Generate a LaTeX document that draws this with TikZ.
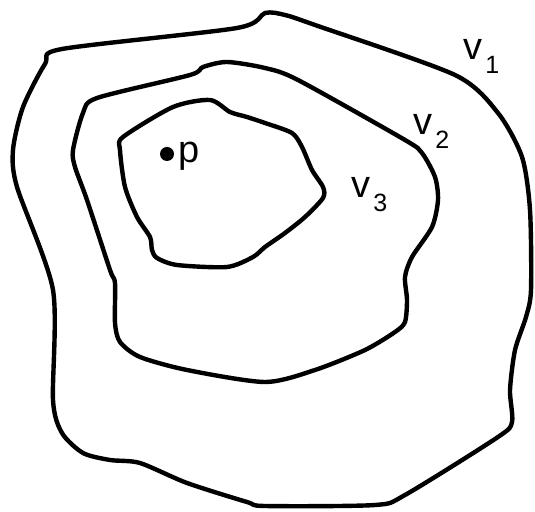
\documentclass[tikz,border=0pt]{standalone}
\usepackage{fontspec}
\setmainfont{Liberation Sans}
\usepackage{tikz}

\newcommand{\vsub}[1]{v\kern1.5pt\raisebox{-7pt}{\fontsize{12.5}{14}\selectfont #1}}

\begin{document}
\begin{tikzpicture}[x=0.5pt, y=-0.5pt, line join=round]
\tikzset{contour/.style={draw=black, line width=2.2pt},
  lbl/.style={inner sep=0pt, anchor=base west, font=\fontsize{19}{22}\selectfont}}
\useasboundingbox (0,0) rectangle (535,512);
% outer region
\draw[contour] plot[smooth cycle, tension=0.45] coordinates {
  (62,49) (237,28) (265,13) (285,15) (315,25) (455,75) (498,113) (522,157)
  (530,210) (531,290) (526,317) (515,350) (510,390) (512,422) (498,437)
  (405,495) (375,505) (265,506) (247,502) (187,483) (140,463) (110,460)
  (83,453) (62,433) (53,400) (53,290) (17,187) (13,150) (23,107) (45,64)};
% middle region
\draw[contour] plot[smooth cycle, tension=0.45] coordinates {
  (97,98) (190,75) (203,67) (227,62) (265,68) (298,80) (405,140) (422,153)
  (435,177) (438,200) (432,227) (412,257) (405,277) (407,300) (405,322)
  (395,332) (365,350) (315,370) (265,382) (187,370) (140,357) (120,342)
  (115,323) (115,283) (110,270) (87,200) (75,167) (73,150) (83,113)};
% inner region
\draw[contour] plot[smooth cycle, tension=0.45] coordinates {
  (123,137) (173,107) (210,100) (230,112) (247,117) (265,123) (292,133)
  (302,147) (312,170) (323,187) (323,198) (305,217) (285,233) (265,247)
  (253,257) (227,267) (177,265) (157,258) (152,250) (150,237) (137,217)
  (125,187) (120,150)};
% point and labels
\node[circle, fill=black, inner sep=0pt, minimum size=7pt] (pdot) at (167,154) {};
\node[lbl] (plab) at (178,163) {p};
\node[lbl] (v1) at (463,60) {\vsub{1}};
\node[lbl] (v2) at (413,135) {\vsub{2}};
\node[lbl] (v3) at (351,198) {\vsub{3}};
\end{tikzpicture}
\end{document}
